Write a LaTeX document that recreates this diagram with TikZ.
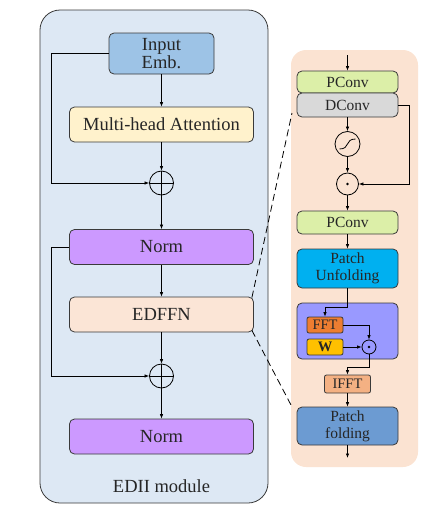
\documentclass[tikz,border=0pt]{standalone}
\usepackage{fontspec}
\setmainfont{Liberation Serif}
\usepackage{xcolor}
\usetikzlibrary{arrows.meta,positioning,calc}
\definecolor{modbg}{HTML}{DDE8F4}
\definecolor{panbg}{HTML}{FBE3D2}
\definecolor{embc}{HTML}{9DC3E6}
\definecolor{attc}{HTML}{FFF2CC}
\definecolor{normc}{HTML}{CC99FF}
\definecolor{ffnc}{HTML}{FBE5D6}
\definecolor{pconvc}{HTML}{DCEFA8}
\definecolor{dconvc}{HTML}{D9D9D9}
\definecolor{unfc}{HTML}{00B0F0}
\definecolor{fregc}{HTML}{9999FF}
\definecolor{fftc}{HTML}{ED7D31}
\definecolor{wc}{HTML}{FFC000}
\definecolor{ifftc}{HTML}{F4B183}
\definecolor{foldc}{HTML}{6C9BD2}
\definecolor{edgec}{HTML}{3A3A3A}
\tikzset{
  blk/.style={draw=edgec,line width=0.8pt,rounded corners=5pt,align=center,
              inner sep=0pt,text=black!85},
  lblk/.style={blk,minimum width=184pt,minimum height=35pt,
               font=\fontsize{18.5}{19}\selectfont},          % left column
  rblk/.style={blk,minimum width=101pt,font=\fontsize{15.5}{17}\selectfont}, % right column
  sblk/.style={blk,rounded corners=2pt,minimum height=16pt,
               font=\fontsize{14.5}{15}\selectfont},           % FFT / W / IFFT
  addop/.style={draw=black,line width=0.8pt,circle,minimum size=24pt,inner sep=0pt,
    path picture={\draw (path picture bounding box.north) -- (path picture bounding box.south)
                        (path picture bounding box.west) -- (path picture bounding box.east);}},
  mulop/.style={draw=black,line width=0.8pt,circle,inner sep=0pt,
    path picture={\fill (path picture bounding box.center) circle (1.3);}},
  sigop/.style={draw=black,line width=0.8pt,circle,minimum size=25pt,inner sep=0pt,
    path picture={\draw ([shift={(-8,5)}]path picture bounding box.center)
                   .. controls +(11,0) and +(-11,0) .. ([shift={(8,-5)}]path picture bounding box.center);}},
  arr/.style={-{Latex[length=4.5pt,width=3.5pt]},line width=0.7pt},
  zoom/.style={dash pattern=on 7pt off 4pt,line width=0.8pt}
}

\begin{document}
\begin{tikzpicture}[x=1pt,y=-1pt]
  \useasboundingbox (0,0) rectangle (439,517);
  % EDII module
  \node[draw=edgec,line width=0.8pt,fill=modbg,rounded corners=20pt,
        minimum width=228pt,minimum height=493pt] (edii) at (154,256.5) {};
  \node[blk,fill=embc,minimum width=105pt,minimum height=41pt,
        font=\fontsize{18.5}{18.5}\selectfont] (inp) at (161.5,53.5) {Input\\Emb.};
  \node[lblk,fill=attc] (mha) at (161.5,124.5) {Multi-head Attention};
  \node[addop] (add1) at (161.5,183) {};
  \node[lblk,fill=normc] (norma) at (161.5,247) {Norm};
  \node[lblk,fill=ffnc] (edffn) at (161.5,314.5) {EDFFN};
  \node[addop] (add2) at (161.5,376) {};
  \node[lblk,fill=normc] (normb) at (161.5,436.5) {Norm};
  \node[font=\fontsize{18.5}{19}\selectfont,text=black!85] (edlbl) at (161.5,486) {EDII module};

  \draw[arr] (inp) -- (mha);
  \draw[arr] (mha) -- (add1);
  \draw[arr] (inp.west) -- ++(-57,0) |- (add1.west);
  \draw[arr] (add1) -- (norma);
  \draw[arr] (norma) -- (edffn);
  \draw[arr] (edffn) -- (add2);
  \draw[arr] (norma.west) -- ++(-18,0) |- (add2.west);
  \draw[arr] (add2) -- (normb);

  % EDFFN detail
  \node[fill=panbg,rounded corners=15pt,minimum width=127pt,minimum height=417pt] (panel) at (354.5,258.5) {};
  \node[rblk,fill=pconvc,minimum height=22pt] (pca) at (347.5,82) {PConv};
  \node[rblk,fill=dconvc,minimum height=24pt] (dcv) at (347.5,105) {DConv};
  \node[sigop] (sig) at (347.5,144) {};
  \node[mulop,minimum size=22pt] (mula) at (347.5,184) {};
  \node[rblk,fill=pconvc,minimum height=23pt] (pcb) at (347.5,222.5) {PConv};
  \node[rblk,fill=unfc,minimum height=39pt] (unf) at (347.5,268.5) {Patch\\Unfolding};
  \node[rblk,fill=fregc,minimum height=56pt] (freg) at (347.5,331) {};
  \node[sblk,fill=fftc,minimum width=36pt] (fft) at (325,325) {FFT};
  \node[sblk,fill=wc,minimum width=36pt] (wgt) at (325,347) {\textbf{W}};
  \node[mulop,minimum size=14pt] (mulb) at (369,347) {};
  \node[sblk,fill=ifftc,minimum width=46pt,minimum height=18pt] (ifft) at (347.5,384) {IFFT};
  \node[rblk,fill=foldc,minimum height=38pt] (fold) at (347.5,426) {Patch\\folding};
  \coordinate (rin) at (347.5,55);
  \coordinate (rout) at (347.5,458);

  \draw[arr] (rin) -- (pca);
  \draw[arr] (dcv) -- (sig);
  \draw[arr] (sig) -- (mula);
  \draw[arr] (dcv.east) -- ++(11,0) |- (mula.east);
  \draw[arr] (mula) -- (pcb);
  \draw[arr] (pcb) -- (unf);
  \draw[arr] (unf.south) -- ++(0,19) -| (fft.north);
  \draw[arr] (fft.east) -| (mulb.north);
  \draw[arr] (wgt) -- (mulb);
  \draw[arr] (mulb.south) -- ++(0,13) -| (ifft.north);
  \draw[arr] (ifft) -- (fold);
  \draw[arr] (fold) -- (rout);

  % zoom lines
  \coordinate (zt) at (292,113);
  \coordinate (zb) at (291,405);
  \draw[zoom] ([shift={(-2,1)}]edffn.north east) -- (zt);
  \draw[zoom] ([shift={(-2,-2)}]edffn.south east) -- (zb);
\end{tikzpicture}
\end{document}
